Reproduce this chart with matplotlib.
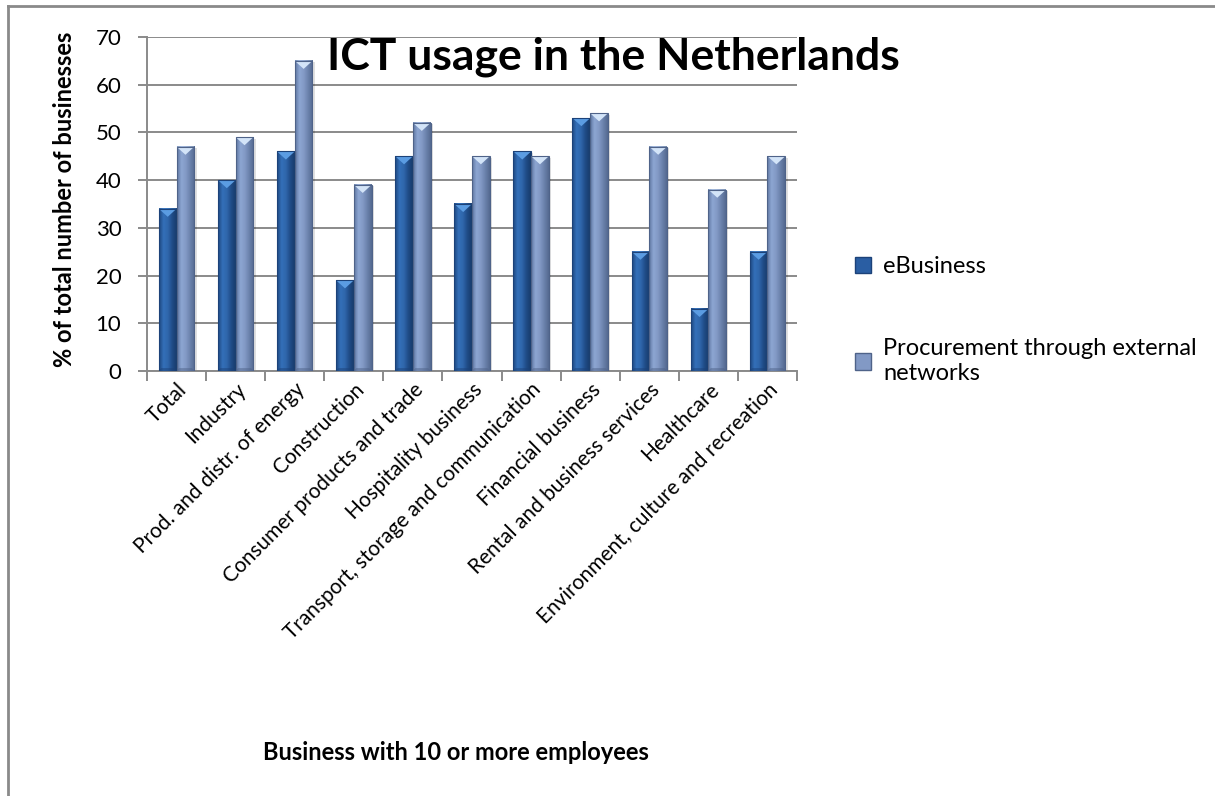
import numpy as np
import matplotlib.pyplot as plt
from matplotlib.colors import LinearSegmentedColormap
from matplotlib.patches import Polygon, Rectangle
from matplotlib.lines import Line2D

plt.rcParams['font.family'] = ['Lato', 'DejaVu Sans']

# ICT usage by sector, businesses with 10+ employees (% of total)
categories = ['Total', 'Industry', 'Prod. and distr. of energy', 'Construction',
              'Consumer products and trade', 'Hospitality business',
              'Transport, storage and communication', 'Financial business',
              'Rental and business services', 'Healthcare',
              'Environment, culture and recreation']
ebusiness = [34, 40, 46, 19, 45, 35, 46, 53, 25, 13, 25]
procurement = [47, 49, 65, 39, 52, 45, 45, 54, 47, 38, 45]
series_names = ['eBusiness', 'Procurement through external\nnetworks']

# bevelled bar look: dark edges, lighter middle, light triangle on top
ebiz_cmap = LinearSegmentedColormap.from_list(
    'ebiz', ['#1d4780', '#3470b9', '#2f66ab', '#1f4b86', '#183c6c'])
proc_cmap = LinearSegmentedColormap.from_list(
    'proc', ['#5f77a2', '#8da6d2', '#8299c5', '#6a81ab', '#556a91'])
styles = [(ebiz_cmap, '#5b9ce2', '#1c4279'),
          (proc_cmap, '#d3e4f8', '#4f6389')]

grad = np.linspace(0, 1, 64).reshape(1, -1)

fig = plt.figure(figsize=(12.15, 7.96), dpi=100)
ax = fig.add_axes([0.121, 0.534, 0.535, 0.4196])

width = 0.3
bevel = 1.7
for s, values in enumerate([ebusiness, procurement]):
    cmap, top_col, edge_col = styles[s]
    for i, v in enumerate(values):
        x0 = i + 0.5 - width + s * width
        x1 = x0 + width
        # soft shadow on the right
        ax.add_patch(Rectangle((x1, 0), 0.04, v - 0.3, color='#000000',
                               alpha=0.12, lw=0, zorder=2.5))
        ax.imshow(grad, extent=(x0, x1, 0, v), aspect='auto', cmap=cmap,
                  interpolation='bilinear', zorder=3)
        ax.add_patch(Polygon([(x0, v), (x1, v), (x0 + width / 2, v - bevel)],
                             closed=True, facecolor=top_col, edgecolor='none',
                             zorder=4))
        ax.add_patch(Polygon([(x0, 0), (x1, 0), (x1 - 0.04, 0.6), (x0 + 0.04, 0.6)],
                             closed=True, facecolor=edge_col, alpha=0.5,
                             edgecolor='none', zorder=4))
        ax.add_patch(Rectangle((x0, 0), width, v, fill=False,
                               edgecolor=edge_col, lw=0.8, zorder=4))

ax.set_xlim(0, len(categories))
ax.set_ylim(0, 70)
ax.set_yticks(range(0, 71, 10))
ax.yaxis.grid(True, color='#8a8a8a', lw=1.4)
ax.set_axisbelow(True)

ax.set_xticks(range(0, len(categories) + 1))
ax.set_xticklabels([])
ax.set_xticks(np.arange(len(categories)) + 0.5, minor=True)
ax.set_xticklabels(categories, minor=True, rotation=45, ha='right',
                   va='top', rotation_mode='anchor', fontsize=15)
ax.tick_params(axis='x', which='minor', length=0, pad=6)
ax.tick_params(axis='x', which='major', length=7, color='#8a8a8a', width=1.4)
ax.tick_params(axis='y', length=6.5, color='#8a8a8a', width=1.4,
               labelsize=16, pad=12)

for side in ['top', 'right']:
    ax.spines[side].set_visible(False)
for side in ['left', 'bottom']:
    ax.spines[side].set_color('#8a8a8a')
    ax.spines[side].set_linewidth(1.4)

ax.text(0.277, 1.0, 'ICT usage in the Netherlands', transform=ax.transAxes,
        fontsize=32, fontweight='bold', ha='left', va='top', zorder=10)

fig.text(0.053, 0.749, '% of total number of businesses', rotation=90,
         fontsize=17, fontweight='bold', ha='center', va='center')
fig.text(0.375, 0.055, 'Business with 10 or more employees',
         fontsize=17, fontweight='bold', ha='center', va='center')

handles = [Rectangle((0, 0), 1, 1, facecolor='#2a5ea3', edgecolor='#1c4279'),
           Rectangle((0, 0), 1, 1, facecolor='#8299c5', edgecolor='#4f6389')]
fig.legend(handles, series_names, loc='upper left',
           bbox_to_anchor=(0.686, 0.705), frameon=False, fontsize=17,
           handlelength=0.7, handleheight=0.7, handletextpad=0.5,
           labelspacing=2.6)

# chart border
fig.add_artist(Line2D([0.0066, 1.0], [0.9925, 0.9925], color='#8a8a8a', lw=2))
fig.add_artist(Line2D([0.0066, 0.0066], [0.0, 0.9925], color='#8a8a8a', lw=2))

fig.savefig('out.png', dpi=100)
